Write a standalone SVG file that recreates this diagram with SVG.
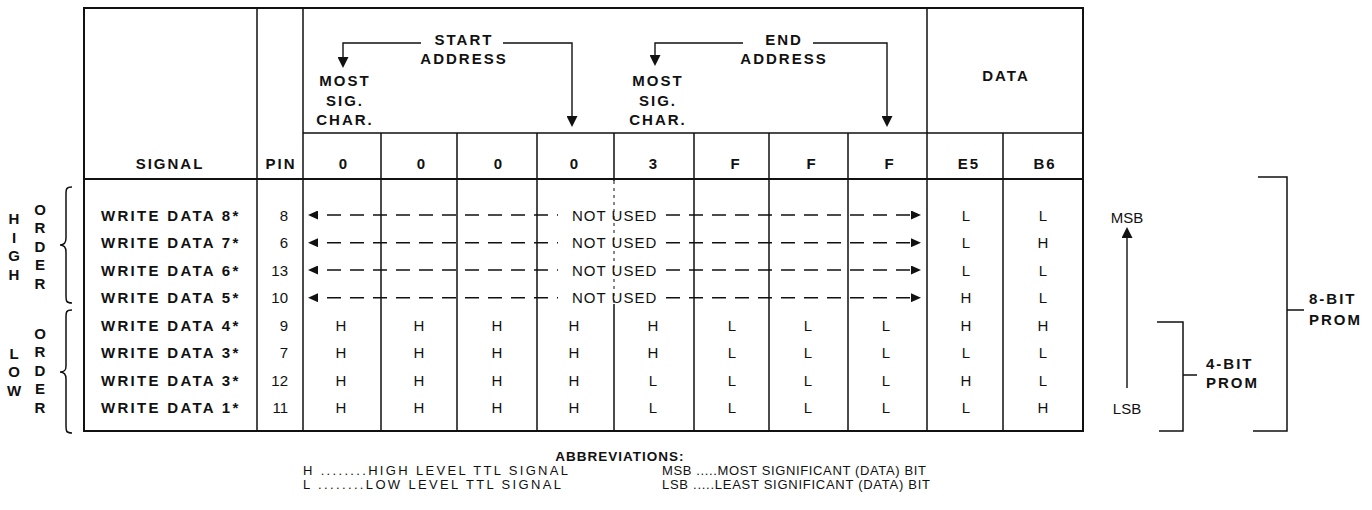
<svg xmlns="http://www.w3.org/2000/svg" width="1372" height="510" viewBox="0 0 1372 510">
<style>
text{font-family:"Liberation Sans",Arial,Helvetica,sans-serif;fill:#111}
.b{font-weight:bold;font-size:15px;letter-spacing:2px}
.s{font-weight:bold;font-size:15px;letter-spacing:2.3px}
.bm{font-weight:bold;font-size:15px;letter-spacing:2px;text-anchor:middle}
.r{font-size:15px;letter-spacing:1px}
.v{font-size:15px;text-anchor:middle}
.p{font-size:15px;text-anchor:end}
.a{font-size:13px}
.ln{stroke:#111;stroke-width:1.5;fill:none}
.th{stroke:#111;stroke-width:2;fill:none}
.dl{stroke:#111;stroke-width:1.4;fill:none;stroke-dasharray:14 9;stroke-dashoffset:14}
.cn{stroke:#111;stroke-width:1.4;fill:none}
</style>
<defs>
<marker id="big" viewBox="0 0 10 10" refX="0" refY="5" markerWidth="11" markerHeight="11" markerUnits="userSpaceOnUse" orient="auto" preserveAspectRatio="none"><path d="M0,0 L10,5 L0,10 z" fill="#111"/></marker>
<marker id="sm" viewBox="0 0 10 10" refX="0" refY="5" markerWidth="10" markerHeight="9" markerUnits="userSpaceOnUse" orient="auto-start-reverse" preserveAspectRatio="none"><path d="M0,0 L10,5 L0,10 z" fill="#111"/></marker>
</defs>
<rect width="1372" height="510" fill="#fff"/>

<g id="table">
<rect class="th" x="84" y="8" width="999" height="423"/>
<path class="ln" d="M257,8 V431 M303,8 V431 M927,8 V431 M303,133 H1083 M381,133 V431 M457,133 V431 M537,133 V431 M694,133 V431 M769,133 V431 M848,133 V431 M1003,133 V431 M614,133 V181 M614,304 V431"/>
<path stroke="#111" stroke-width="1" stroke-dasharray="3 4" d="M614,181 V304"/>
<path class="th" d="M84,179 H1083"/>
</g>

<g id="header">
<text class="bm" x="170" y="168.5">SIGNAL</text>
<text class="bm" x="281" y="168.5">PIN</text>
<text class="bm" x="344" y="168.5">0</text>
<text class="bm" x="422" y="168.5">0</text>
<text class="bm" x="499" y="168.5">0</text>
<text class="bm" x="575" y="168.5">0</text>
<text class="bm" x="654" y="168.5">3</text>
<text class="bm" x="736" y="168.5">F</text>
<text class="bm" x="812" y="168.5">F</text>
<text class="bm" x="890" y="168.5">F</text>
<text class="bm" x="969" y="168.5">E5</text>
<text class="bm" x="1045" y="168.5">B6</text>
<text class="bm" x="1006" y="81">DATA</text>
<text class="bm" x="464" y="44.5">START</text>
<text class="bm" x="464" y="63.5">ADDRESS</text>
<text class="bm" x="784" y="44.5">END</text>
<text class="bm" x="784" y="63.5">ADDRESS</text>
<text class="bm" x="345" y="86">MOST</text>
<text class="bm" x="345" y="105.5">SIG.</text>
<text class="bm" x="345" y="125">CHAR.</text>
<text class="bm" x="658" y="86">MOST</text>
<text class="bm" x="658" y="105.5">SIG.</text>
<text class="bm" x="658" y="125">CHAR.</text>
</g>

<g id="signals">
<text class="s" x="101" y="220.5">WRITE DATA 8*</text>
<text class="s" x="101" y="248">WRITE DATA 7*</text>
<text class="s" x="101" y="275.5">WRITE DATA 6*</text>
<text class="s" x="101" y="303">WRITE DATA 5*</text>
<text class="s" x="101" y="330.5">WRITE DATA 4*</text>
<text class="s" x="101" y="358">WRITE DATA 3*</text>
<text class="s" x="101" y="385.5">WRITE DATA 3*</text>
<text class="s" x="101" y="413">WRITE DATA 1*</text>
</g>

<g id="pins">
<text class="p" x="288" y="220.5">8</text>
<text class="p" x="288" y="248">6</text>
<text class="p" x="288" y="275.5">13</text>
<text class="p" x="288" y="303">10</text>
<text class="p" x="288" y="330.5">9</text>
<text class="p" x="288" y="358">7</text>
<text class="p" x="288" y="385.5">12</text>
<text class="p" x="288" y="413">11</text>
</g>

<g id="not-used">
<text class="r" x="572" y="220.5">NOT USED</text>
<text class="r" x="572" y="248">NOT USED</text>
<text class="r" x="572" y="275.5">NOT USED</text>
<text class="r" x="572" y="303">NOT USED</text>
</g>

<g id="values">
<g transform="translate(0,330.5)">
<text class="v" x="341">H</text><text class="v" x="419">H</text><text class="v" x="497">H</text><text class="v" x="574">H</text><text class="v" x="653">H</text><text class="v" x="732">L</text><text class="v" x="808">L</text><text class="v" x="886">L</text>
</g>
<g transform="translate(0,358)">
<text class="v" x="341">H</text><text class="v" x="419">H</text><text class="v" x="497">H</text><text class="v" x="574">H</text><text class="v" x="653">H</text><text class="v" x="732">L</text><text class="v" x="808">L</text><text class="v" x="886">L</text>
</g>
<g transform="translate(0,385.5)">
<text class="v" x="341">H</text><text class="v" x="419">H</text><text class="v" x="497">H</text><text class="v" x="574">H</text><text class="v" x="653">L</text><text class="v" x="732">L</text><text class="v" x="808">L</text><text class="v" x="886">L</text>
</g>
<g transform="translate(0,413)">
<text class="v" x="341">H</text><text class="v" x="419">H</text><text class="v" x="497">H</text><text class="v" x="574">H</text><text class="v" x="653">L</text><text class="v" x="732">L</text><text class="v" x="808">L</text><text class="v" x="886">L</text>
</g>
</g>

<g id="data">
<text class="v" x="966" y="220.5">L</text><text class="v" x="1043" y="220.5">L</text>
<text class="v" x="966" y="248">L</text><text class="v" x="1043" y="248">H</text>
<text class="v" x="966" y="275.5">L</text><text class="v" x="1043" y="275.5">L</text>
<text class="v" x="966" y="303">H</text><text class="v" x="1043" y="303">L</text>
<text class="v" x="966" y="330.5">H</text><text class="v" x="1043" y="330.5">H</text>
<text class="v" x="966" y="358">L</text><text class="v" x="1043" y="358">L</text>
<text class="v" x="966" y="385.5">H</text><text class="v" x="1043" y="385.5">L</text>
<text class="v" x="966" y="413">L</text><text class="v" x="1043" y="413">H</text>
</g>

<g id="high-order">
<path class="ln" d="M72,187 C66,187 66,189 66,195 L66,238 C66,243 64,245 60,245 C64,245 66,247 66,252 L66,295 C66,301 66,303 72,303"/>
<text class="bm" x="15" y="224">H</text>
<text class="bm" x="15" y="242.5">I</text>
<text class="bm" x="15" y="261">G</text>
<text class="bm" x="15" y="279.5">H</text>
<text class="bm" x="41" y="214.5">O</text>
<text class="bm" x="41" y="233">R</text>
<text class="bm" x="41" y="251.5">D</text>
<text class="bm" x="41" y="270">E</text>
<text class="bm" x="41" y="288.5">R</text>
</g>

<g id="low-order">
<path class="ln" d="M72,310 C66,310 66,312 66,318 L66,366 C66,371 64,372 60,372 C64,372 66,374 66,379 L66,425 C66,431 66,433 72,433"/>
<text class="bm" x="15" y="358.5">L</text>
<text class="bm" x="15" y="377">O</text>
<text class="bm" x="15" y="395.5">W</text>
<text class="bm" x="41" y="338.5">O</text>
<text class="bm" x="41" y="357">R</text>
<text class="bm" x="41" y="375.5">D</text>
<text class="bm" x="41" y="394">E</text>
<text class="bm" x="41" y="412.5">R</text>
</g>

<g id="bit-order">
<text class="v" x="1127" y="223">MSB</text>
<text class="v" x="1127" y="414">LSB</text>
</g>

<g id="prom-4bit">
<path class="ln" d="M1157,322 H1183 V431 H1159 M1183,375 H1197"/>
<text class="b" x="1206" y="369">4-BIT</text>
<text class="b" x="1206" y="388">PROM</text>
</g>

<g id="prom-8bit">
<path class="ln" d="M1258,177 H1287 V431 H1253 M1287,310 H1304"/>
<text class="b" x="1309" y="304">8-BIT</text>
<text class="b" x="1309" y="325">PROM</text>
</g>

<g id="abbreviations">
<text x="620" y="461" font-size="13.5" font-weight="bold" text-anchor="middle" letter-spacing="1">ABBREVIATIONS:</text>
<text class="a" x="303" y="474.5" textLength="265" lengthAdjust="spacing">H ........HIGH LEVEL TTL SIGNAL</text>
<text class="a" x="303" y="489" textLength="258" lengthAdjust="spacing">L ........LOW LEVEL TTL SIGNAL</text>
<text class="a" x="662" y="474.5" textLength="264" lengthAdjust="spacing">MSB .....MOST SIGNIFICANT (DATA) BIT</text>
<text class="a" x="662" y="489" textLength="268" lengthAdjust="spacing">LSB .....LEAST SIGNIFICANT (DATA) BIT</text>
</g>

<g id="connectors">
<path class="cn" d="M421,43 H343 V57" marker-end="url(#big)"/>
<path class="cn" d="M503,43 H572 V116" marker-end="url(#big)"/>
<path class="cn" d="M743,43 H655 V55" marker-end="url(#big)"/>
<path class="cn" d="M813,43 H887 V116" marker-end="url(#big)"/>
<path class="cn" d="M1127,388 V238" marker-end="url(#big)"/>
<path class="dl" d="M318,215 H558" marker-start="url(#sm)"/>
<path class="dl" d="M318,242.7 H558" marker-start="url(#sm)"/>
<path class="dl" d="M318,270 H558" marker-start="url(#sm)"/>
<path class="dl" d="M318,297.7 H558" marker-start="url(#sm)"/>
<path class="dl" d="M666,215 H911" style="stroke-dashoffset:0" marker-end="url(#sm)"/>
<path class="dl" d="M666,242.7 H911" style="stroke-dashoffset:0" marker-end="url(#sm)"/>
<path class="dl" d="M666,270 H911" style="stroke-dashoffset:0" marker-end="url(#sm)"/>
<path class="dl" d="M666,297.7 H911" style="stroke-dashoffset:0" marker-end="url(#sm)"/>
</g>
</svg>
